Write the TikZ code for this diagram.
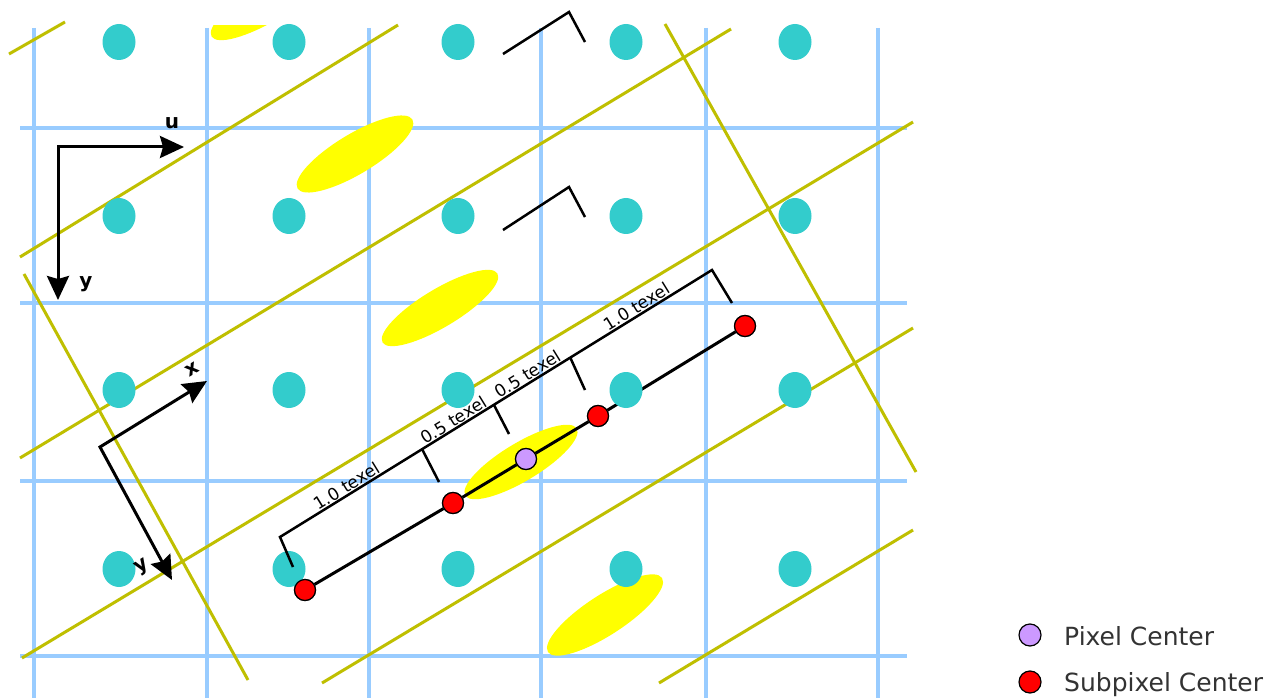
\documentclass[tikz,border=0pt]{standalone}
\usepackage{fontspec}
\setmainfont{DejaVu Sans}
\usetikzlibrary{arrows.meta}
\definecolor{gridblue}{HTML}{99CCFF}
\definecolor{dotteal}{HTML}{33CCCC}
\definecolor{texolive}{HTML}{BFBF00}
\definecolor{blobyellow}{HTML}{FFFF00}
\definecolor{pixpurple}{HTML}{CC99FF}
\definecolor{legtext}{HTML}{333333}
\begin{document}
\begin{tikzpicture}[x=1pt,y=-1pt,
  gridline/.style={gridblue,line width=3.5pt},
  texline/.style={texolive,line width=3pt},
  blob/.style={fill=blobyellow},
  pixdot/.style={fill=dotteal},
  subdot/.style={circle,draw=black,fill=red,line width=1.2pt,minimum size=21pt,inner sep=0pt},
  pixcenter/.style={subdot,fill=pixpurple},
  dimline/.style={black,line width=2.5pt},
  mainline/.style={black,line width=3pt},
  axisarrows/.style={black,line width=3pt,line join=miter,
     {Stealth[length=24pt,width=22pt,inset=3pt]}-{Stealth[length=24pt,width=22pt,inset=3pt]}},
  dimlabel/.style={font=\fontsize{17}{17}\selectfont,rotate=31.7,anchor=south,inner sep=1.5pt},
  axlabel/.style={font=\fontsize{20}{20}\selectfont\bfseries,inner sep=0pt},
  legendtext/.style={font=\fontsize{25}{25}\selectfont,text=legtext,anchor=base west,inner sep=0pt}]

\useasboundingbox (0,0) rectangle (1284,700);
\fill[white] (0,0) rectangle (1284,700);

% pixel grid
\foreach \gx in {34,207,369,541,706,878}
  \draw[gridline] (\gx,28) -- (\gx,698);
\foreach \gy in {128,303,481,656}
  \draw[gridline] (20,\gy) -- (907,\gy);

% yellow footprints
\begin{scope}
  \clip (0,26) rectangle (1284,700);
  \fill[blob, rotate around={31:(269,2)}] (269,2) ellipse [x radius=67pt, y radius=19pt];
\end{scope}
\fill[blob, rotate around={31:(355,154)}] (355,154) ellipse [x radius=67pt, y radius=20pt];
\fill[blob, rotate around={31:(440,308)}] (440,308) ellipse [x radius=67pt, y radius=19pt];
\fill[blob, rotate around={31:(521,462)}] (521,462) ellipse [x radius=65pt, y radius=19pt];
\fill[blob, rotate around={33:(605,615)}] (605,615) ellipse [x radius=68pt, y radius=20pt];

% texel grid lines
\draw[texline] (9,54) -- (65,22);
\draw[texline] (20,257) -- (398,25);
\draw[texline] (20,458) -- (731,29);
\draw[texline] (22,658) -- (913,122);
\draw[texline] (322,683) -- (913,328);
\draw[texline] (659,683) -- (913,530);
\draw[texline] (24,274) -- (248,680);
\draw[texline] (665,24) -- (916,472);

% sample line with subpixel centers
\node[subdot] (r1) at (305,590) {};
\node[subdot] (r2) at (453,503) {};
\node[pixcenter] (pc) at (526,459) {};
\node[subdot] (r3) at (598,416) {};
\node[subdot] (r4) at (745,326) {};
\draw[mainline] (r1) -- (r2) -- (pc) -- (r3) -- (r4);

% pixel centers (teal dots)
\foreach \px in {119,289,458,626,795}
  \foreach \py in {42,216,390,569}
    \fill[pixdot] (\px,\py) ellipse [x radius=16.5pt, y radius=18pt];

% redraw subpixel markers on top
\node[subdot] at (r1) {};
\node[subdot] at (r2) {};
\node[pixcenter] at (pc) {};
\node[subdot] at (r3) {};
\node[subdot] at (r4) {};

% dimension bracket
\coordinate (d0) at (280,537);
\coordinate (d1) at (422,449);
\coordinate (d2) at (494,405);
\coordinate (d3) at (570,357);
\coordinate (d4) at (712,270);
\coordinate (t0) at (293,567);
\coordinate (t1) at (439,482);
\coordinate (t2) at (509,434);
\coordinate (t3) at (585,390);
\coordinate (t4) at (732,303);
\draw[dimline,line join=miter] (t0) -- (d0) -- (d4) -- (t4);
\draw[dimline] (d1) -- (t1);
\draw[dimline] (d2) -- (t2);
\draw[dimline] (d3) -- (t3);
\path (d0) -- (d1) node[midway,dimlabel] (l1) {1.0 texel};
\path (d1) -- (d2) node[midway,dimlabel] (l2) {0.5 texel};
\path (d2) -- (d3) node[midway,dimlabel] (l3) {0.5 texel};
\path (d3) -- (d4) node[midway,dimlabel] (l4) {1.0 texel};

% top corner marks
\coordinate (ka) at (503,54);
\coordinate (kb) at (569,12);
\coordinate (kc) at (585,42);
\draw[dimline,line join=miter] (ka) -- (kb) -- (kc);
\coordinate (kd) at (503,230);
\coordinate (ke) at (569,187);
\coordinate (kf) at (585,217);
\draw[dimline,line join=miter] (kd) -- (ke) -- (kf);

% screen axes
\coordinate (so) at (58,147);
\coordinate (su) at (184,147);
\coordinate (sy) at (58,300);
\draw[axisarrows] (su) -- (so) -- (sy);
\node[axlabel] (lu) at (172,123) {u};
\node[axlabel] (ly) at (86,284) {y};

% texture axes
\coordinate (to) at (100,447);
\coordinate (tx) at (207,381);
\coordinate (ty) at (172,580);
\draw[axisarrows] (tx) -- (to) -- (ty);
\node[axlabel,rotate=31] (lx) at (192,369) {x};
\node[axlabel,rotate=31] (lty) at (142,567) {y};

% legend
\node[pixcenter,minimum size=22pt] (lgp) at (1030,635) {};
\node[legendtext] (lgpt) at (1064,645) {Pixel Center};
\node[subdot,minimum size=22pt] (lgs) at (1030,682) {};
\node[legendtext] (lgst) at (1064,691) {Subpixel Center};
\end{tikzpicture}
\end{document}
